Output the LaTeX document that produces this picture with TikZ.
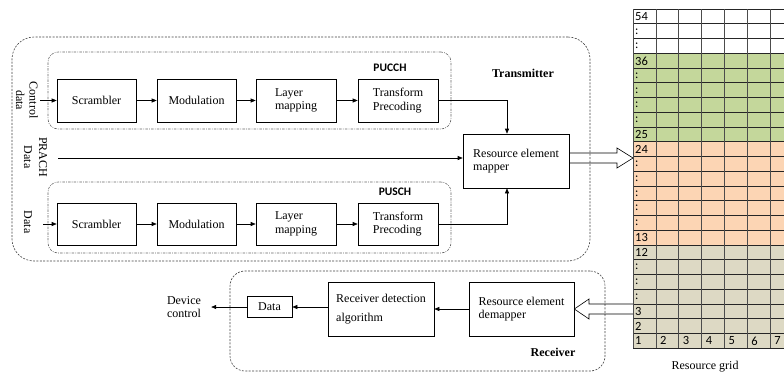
\documentclass[tikz,border=0pt]{standalone}
\usepackage{fontspec}
\setmainfont{Liberation Serif}
\newfontfamily\calfont{Carlito}
\usetikzlibrary{arrows.meta,calc}
\definecolor{ggreen}{RGB}{196,215,155}
\definecolor{gorange}{RGB}{252,213,180}
\definecolor{gbeige}{RGB}{221,217,196}
\begin{document}
\begin{tikzpicture}[x=1pt,y=-1pt,
  font=\fontsize{12}{13.5}\selectfont,
  blk/.style={draw, line width=0.6pt, inner sep=2pt},
  arr/.style={-{Triangle[length=5pt,width=4pt]}, line width=0.6pt},
  outerbox/.style={draw=black!75, dash pattern=on 2pt off 1.4pt, rounded corners=22pt, line width=0.6pt},
  innerbox/.style={draw=black!60, dash pattern=on 2.5pt off 1.2pt on 0.8pt off 1.2pt, rounded corners=10pt, line width=0.6pt},
  hollow/.style={draw, line width=0.6pt},
  lbl/.style={inner sep=0pt},
  chlbl/.style={inner sep=0pt, font=\calfont\bfseries\fontsize{11.5}{12}\selectfont},
  gl/.style={inner sep=0pt, anchor=west, font=\calfont\fontsize{12.5}{13}\selectfont}
]
\useasboundingbox (0,0) rectangle (784,376);

% ---------- transmitter ----------
\node[outerbox, minimum width=578pt, minimum height=224pt] (tx) at (301,149) {};
\node[innerbox, minimum width=403pt, minimum height=77pt] (pucch) at (249.5,90.5) {};
\node[innerbox, minimum width=403pt, minimum height=71pt] (pusch) at (249.5,217.5) {};

\node[chlbl] (pucchl) at (390,68) {PUCCH};
\node[chlbl] (puschl) at (395,192) {PUSCH};
\node[lbl, font=\bfseries\fontsize{12}{13}\selectfont] (txl) at (523,73) {Transmitter};

\node[blk, minimum width=79pt, minimum height=43pt] (scr1) at (96.5,100.5) {Scrambler};
\node[blk, minimum width=79pt, minimum height=43pt] (mod1) at (196.5,100.5) {Modulation};
\node[blk, minimum width=80pt, minimum height=43pt, align=left] (lm1) at (296,100.5) {Layer\\mapping};
\node[blk, minimum width=80pt, minimum height=43pt, align=left] (tp1) at (398,100.5) {Transform\\Precoding};

\node[blk, minimum width=79pt, minimum height=42pt] (scr2) at (96.5,224) {Scrambler};
\node[blk, minimum width=79pt, minimum height=42pt] (mod2) at (196.5,224) {Modulation};
\node[blk, minimum width=80pt, minimum height=42pt, align=left] (lm2) at (296,224) {Layer\\mapping};
\node[blk, minimum width=80pt, minimum height=42pt, align=left] (tp2) at (398,224) {Transform\\Precoding};

\node[blk, minimum width=106pt, minimum height=54pt, align=left] (rem) at (516,161) {Resource element\\mapper};

\node[lbl, rotate=-90, align=center] (ctl) at (27,100) {Control\\data};
\node[lbl, rotate=-90, align=center, font=\fontsize{12}{15}\selectfont] (prl) at (35.5,157) {PRACH\\Data};
\node[lbl, rotate=-90] (dtl) at (28,222) {Data};

\coordinate (cin) at (40,100.5);
\coordinate (din) at (43,224);
\coordinate (pin) at (58,158);

\draw[arr] (cin) -- (scr1.west);
\draw[arr] (scr1) -- (mod1);
\draw[arr] (mod1) -- (lm1);
\draw[arr] (lm1) -- (tp1);
\draw[arr] (din) -- (scr2.west);
\draw[arr] (scr2) -- (mod2);
\draw[arr] (mod2) -- (lm2);
\draw[arr] (lm2) -- (tp2);
\draw[arr] (pin) -- (rem.west |- pin);
\draw[arr] (tp1.east) -| ([xshift=-9pt]rem.north);
\draw[arr] (tp2.east) -| ([xshift=-9pt]rem.south);

% ---------- receiver ----------
\node[outerbox, rounded corners=15pt, minimum width=375pt, minimum height=100pt] (rx) at (417.5,321) {};
\node[lbl, font=\bfseries\fontsize{12}{13}\selectfont] (rxl) at (553,352) {Receiver};

\node[blk, minimum width=105pt, minimum height=54pt, align=left] (dem) at (521.5,309) {Resource element\\demapper};
\node[blk, minimum width=106pt, minimum height=54pt, align=left] (rda) at (381,309) {Receiver detection\\[5pt]algorithm};
\node[blk, minimum width=45pt, minimum height=21pt] (dat) at (269.5,307) {Data};
\node[lbl, align=left] (dc) at (184,307) {Device\\control};

\draw[arr] (dem.west) -- (rda.east);
\draw[arr] (rda.west |- dat.east) -- (dat.east);
\draw[arr] (dat.west) -- ([xshift=10pt]dc.east);

% ---------- hollow arrows ----------
\coordinate (ta) at (0,153);
\coordinate (tb) at (0,163);
\draw[hollow] (rem.east |- ta) -- (617,153) -- (617,148) -- (633,158) -- (617,168) -- (617,163) -- (rem.east |- tb);
\draw[hollow] (633,304) -- (589,304) -- (589,299) -- (dem.east) -- (589,319) -- (589,314) -- (633,314);

% ---------- resource grid ----------
\def\gt{9}
\def\rh{14.74}
\def\cw{22.85}
\fill[ggreen]  (633,\gt+3*\rh) rectangle (793,\gt+9*\rh);
\fill[gorange] (633,\gt+9*\rh) rectangle (793,\gt+16*\rh);
\fill[gbeige]  (633,\gt+16*\rh) rectangle (793,\gt+23*\rh);
\foreach \i in {0,...,23} {
  \draw[line width=0.6pt, black!85] (633,\gt+\i*\rh) -- (793,\gt+\i*\rh);
}
\foreach \j in {0,...,6} {
  \draw[line width=0.6pt, black!70] (633+\j*\cw,\gt) -- (633+\j*\cw,\gt+23*\rh);
}
\foreach \lab [count=\i from 0] in {54,:,:,36,:,:,:,:,25,24,:,:,:,:,:,13,12,:,:,:,3,2,1} {
  \node[gl] (g\i) at (635,\gt+\i*\rh+7.6) {\lab};
}
\foreach \c in {2,...,7} {
  \node[gl] (b\c) at (633+\c*\cw-\cw+4,\gt+22*\rh+7.6) {\c};
}
\node[lbl] (rgl) at (705,367) {Resource grid};
\end{tikzpicture}
\end{document}
